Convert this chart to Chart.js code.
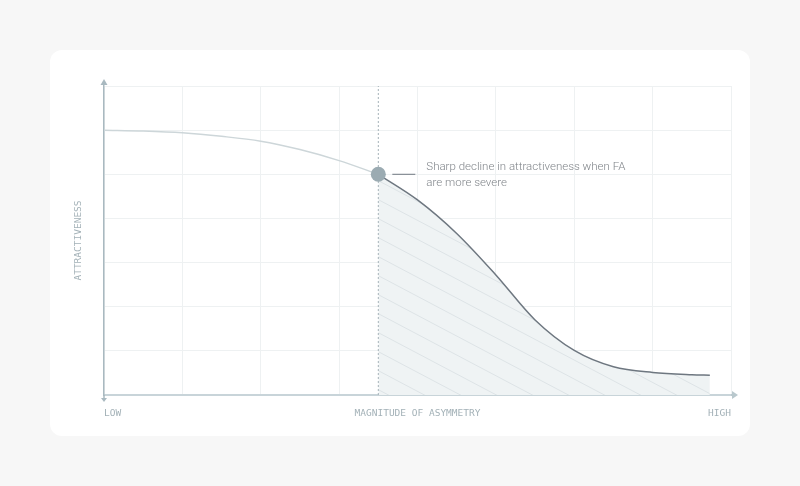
<!DOCTYPE html>
<html>
<head>
<meta charset="utf-8">
<script src="https://cdn.jsdelivr.net/npm/chart.js@4.4.0/dist/chart.umd.min.js"></script>
<style>
  html, body { margin: 0; padding: 0; background: #f7f7f7; }
  #wrap { position: relative; width: 800px; height: 486px; }
  #card { position: absolute; left: 50px; top: 50px; width: 700px; height: 386px; background: #fff; border-radius: 12px; }
  #asym { position: absolute; left: 0; top: 0; }
</style>
</head>
<body>
<div id="wrap">
  <div id="card"></div>
  <canvas id="asym" width="800" height="486"></canvas>
</div>
<script>
// curve, x in grid units (0..8), y in grid units (0..7)
var mildX = [0, 0.5, 1, 1.5, 2, 2.5, 3, 3.5];
var mildY = [6.0, 5.98, 5.94, 5.86, 5.75, 5.56, 5.31, 5.0];
var severeX = [3.5, 4, 4.5, 5, 5.5, 6, 6.5, 7, 7.5, 7.73];
var severeY = [5.0, 4.42, 3.66, 2.72, 1.7, 1.01, 0.64, 0.51, 0.46, 0.45];
var thresholdX = 3.5;
var xTickLabels = {0: 'LOW', 4: 'MAGNITUDE OF ASYMMETRY', 8: 'HIGH'};
var yTitle = 'ATTRACTIVENESS';
var noteLines = ['Sharp decline in attractiveness when FA', 'are more severe'];

function pts(xs, ys) {
    return xs.map(function(x, i){ return {x: x, y: ys[i]}; });
}

// hatched fill
var tile = document.createElement('canvas');
tile.width = 36; tile.height = 19;
var tc = tile.getContext('2d');
tc.fillStyle = '#eff3f4';
tc.fillRect(0, 0, 36, 19);
tc.strokeStyle = '#dde3e6';
tc.lineWidth = 1;
[-36, 0, 36].forEach(function(o){
    tc.beginPath();
    tc.moveTo(o - 36, -19);
    tc.lineTo(o + 72, 38);
    tc.stroke();
});
var hatch = tc.createPattern(tile, 'repeat');

var axisCol = '#a9b9c0';
var monoFont = {family: "'DejaVu Sans Mono', monospace", size: 9.5};

const decorPlugin = {
    id: 'decor',
    afterDraw: function(chart) {
        const ctx = chart.ctx;
        const a = chart.chartArea;
        ctx.save();
        ctx.fillStyle = axisCol;
        // up arrow on y axis
        ctx.beginPath();
        ctx.moveTo(a.left - 3.5, a.top - 1);
        ctx.lineTo(a.left + 3.5, a.top - 1);
        ctx.lineTo(a.left, a.top - 7);
        ctx.closePath();
        ctx.fill();
        // small down arrow below the origin
        ctx.fillRect(a.left - 0.75, a.bottom, 1.5, 3);
        ctx.beginPath();
        ctx.moveTo(a.left - 3, a.bottom + 3);
        ctx.lineTo(a.left + 3, a.bottom + 3);
        ctx.lineTo(a.left, a.bottom + 7);
        ctx.closePath();
        ctx.fill();
        // right arrow on x axis
        ctx.fillStyle = '#b9c8cd';
        ctx.fillRect(a.right, a.bottom - 1, 2, 2);
        ctx.beginPath();
        ctx.moveTo(a.right + 1, a.bottom - 4);
        ctx.lineTo(a.right + 1, a.bottom + 4);
        ctx.lineTo(a.right + 7, a.bottom);
        ctx.closePath();
        ctx.fill();

        // annotation next to the threshold point
        const meta = chart.getDatasetMeta(0);
        const p = meta.data[0];
        ctx.strokeStyle = '#6e7780';
        ctx.lineWidth = 1;
        ctx.beginPath();
        ctx.moveTo(p.x + 14, p.y);
        ctx.lineTo(p.x + 37, p.y);
        ctx.stroke();
        ctx.fillStyle = '#80858a';
        ctx.font = "300 11.5px Roboto, 'Liberation Sans', sans-serif";
        ctx.textBaseline = 'middle';
        ctx.fillText(noteLines[0], p.x + 48, p.y - 7);
        ctx.fillText(noteLines[1], p.x + 48, p.y + 9);
        ctx.restore();
    }
};

new Chart(document.getElementById('asym'), {
    type: 'scatter',
    data: {
        datasets: [{
            label: 'threshold',
            data: [{x: thresholdX, y: severeY[0]}],
            pointRadius: 7.5,
            pointHoverRadius: 7.5,
            pointBackgroundColor: '#9babb2',
            pointBorderWidth: 0,
            order: 0
        }, {
            label: 'divider',
            data: [{x: thresholdX, y: 0}, {x: thresholdX, y: 7}],
            showLine: true,
            borderColor: '#a6b2b8',
            borderWidth: 1,
            borderDash: [2, 2],
            pointRadius: 0,
            order: 1
        }, {
            label: 'severe',
            data: pts(severeX, severeY),
            showLine: true,
            borderColor: '#6e7780',
            borderWidth: 1.5,
            backgroundColor: hatch,
            fill: 'origin',
            cubicInterpolationMode: 'monotone',
            pointRadius: 0,
            order: 2
        }, {
            label: 'mild',
            data: pts(mildX, mildY),
            showLine: true,
            borderColor: '#cdd6d9',
            borderWidth: 1.5,
            cubicInterpolationMode: 'monotone',
            pointRadius: 0,
            order: 3
        }]
    },
    options: {
        responsive: false,
        animation: false,
        layout: { padding: {left: 60, top: 86, right: 69, bottom: 0} },
        plugins: { legend: {display: false}, tooltip: {enabled: false} },
        scales: {
            x: {
                type: 'linear',
                min: 0, max: 8,
                afterFit: function(s){ s.height = 91; },
                grid: { color: '#eef1f2', drawTicks: false },
                border: { color: '#c8d4d9', width: 2 },
                ticks: {
                    stepSize: 1,
                    autoSkip: false,
                    maxRotation: 0,
                    align: 'inner',
                    padding: 13,
                    color: '#a3b1b7',
                    font: monoFont,
                    callback: function(v){ return xTickLabels[v] || ''; }
                }
            },
            y: {
                type: 'linear',
                min: 0, max: 7,
                afterFit: function(s){ s.width = 44; },
                grid: { color: '#eef1f2', drawTicks: false },
                border: { color: axisCol, width: 1.5 },
                ticks: { stepSize: 1, display: false },
                title: {
                    display: true,
                    text: yTitle,
                    color: '#a3b1b7',
                    font: monoFont,
                    padding: {top: 13, bottom: 0}
                }
            }
        }
    },
    plugins: [decorPlugin]
});
</script>
</body>
</html>
